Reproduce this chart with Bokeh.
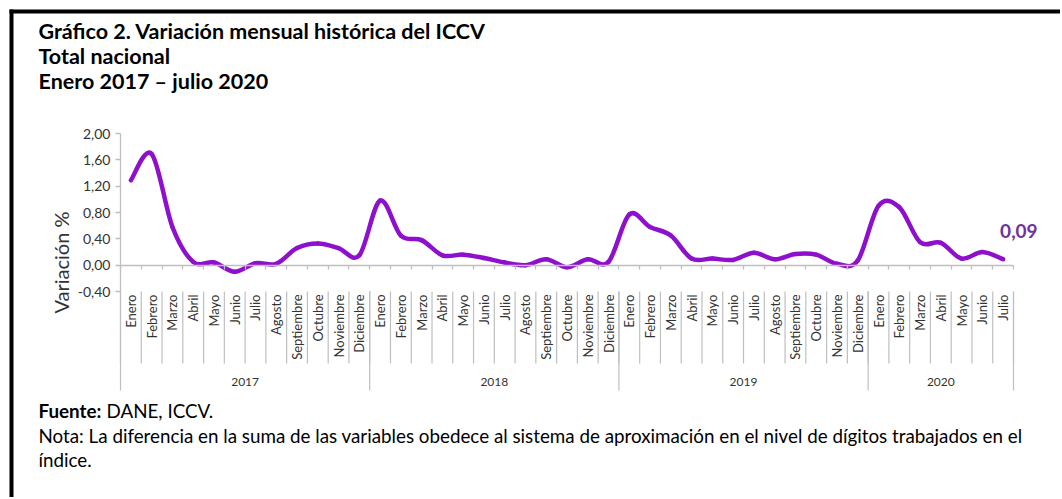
import math
from bokeh.plotting import figure
from bokeh.models import Range1d, FixedTicker, LinearAxis, Label, BoxAnnotation
from bokeh.embed import file_html
from bokeh.resources import INLINE

# ---------------- data ----------------
years = ["2017", "2018", "2019", "2020"]
months = ["Enero", "Febrero", "Marzo", "Abril", "Mayo", "Junio", "Julio",
          "Agosto", "Septiembre", "Octubre", "Noviembre", "Diciembre"]
values_2017 = [1.29, 1.69, 0.58, 0.05, 0.04, -0.10, 0.03, 0.02, 0.26, 0.33, 0.26, 0.15]
values_2018 = [0.98, 0.45, 0.38, 0.15, 0.16, 0.11, 0.04, 0.00, 0.09, -0.03, 0.09, 0.05]
values_2019 = [0.77, 0.58, 0.45, 0.10, 0.10, 0.08, 0.19, 0.09, 0.17, 0.16, 0.02, 0.07]
values_2020 = [0.90, 0.88, 0.35, 0.34, 0.10, 0.20, 0.09]
y_ticks = [-0.4, 0.0, 0.4, 0.8, 1.2, 1.6, 2.0]
y_tick_labels = ["-0,40", "0,00", "0,40", "0,80", "1,20", "1,60", "2,00"]

title_lines = ["Gráfico 2. Variación mensual histórica del ICCV",
               "Total nacional",
               "Enero 2017 \u2013 julio 2020"]
y_label = "Variación %"
source_bold = "Fuente:"
source_text = "DANE, ICCV."
note_lines = ["Nota: La diferencia en la suma de las variables obedece al sistema de aproximación en el nivel de dígitos trabajados en el",
              "índice."]

# ---------------- derived ----------------
series = [values_2017, values_2018, values_2019, values_2020]
values = [v for s in series for v in s]
month_labels = [months[i] for s in series for i in range(len(s))]
n = len(values)
xs = list(range(n))
year_sizes = [len(s) for s in series]
year_starts = [sum(year_sizes[:k]) for k in range(len(year_sizes))]
year_centers = [year_starts[k] + (year_sizes[k] - 1) / 2 for k in range(len(years))]
year_bounds = [s - 0.5 for s in year_starts] + [n - 0.5]
month_bounds = [i - 0.5 for i in range(n + 1)]

LINE = "#8E10CC"
GRAY = "#BFBFBF"
TXT = "#333333"
FONT = "Lato"

W, H = 1060, 497
# plot-area placement on the canvas (pixels)
PL, PR, PT, PB = 120, 1013, 133, 291
x_lo, x_hi = -0.5, n - 0.5
y_lo, y_hi = y_ticks[0], y_ticks[-1]
SX = (PR - PL) / (x_hi - x_lo)
SY = (PB - PT) / (y_hi - y_lo)
BASE_FIX = 7  # rendered baseline sits a few px lower than requested


def xd(px):
    return x_lo + (px - PL) / SX


def yd(py):
    return y_hi - (py - PT) / SY


p = figure(width=W, height=H, output_backend="svg", toolbar_location=None,
           x_range=Range1d(xd(0), xd(W)), y_range=Range1d(yd(H), yd(0)),
           x_axis_location=None, y_axis_location=None,
           min_border=0, min_border_left=0, min_border_right=0,
           min_border_top=0, min_border_bottom=0)
p.outline_line_color = None
p.grid.visible = False
p.background_fill_color = "white"
p.border_fill_color = "white"

# y axis
ay = LinearAxis(fixed_location=x_lo, bounds=(y_lo, y_hi),
                ticker=FixedTicker(ticks=y_ticks, minor_ticks=[]),
                major_label_overrides=dict(zip(y_ticks, y_tick_labels)))
ay.axis_line_color = GRAY
ay.axis_line_width = 1.3
ay.major_tick_line_color = GRAY
ay.major_tick_line_width = 1.3
ay.major_tick_in = 0
ay.major_tick_out = 5
ay.minor_tick_line_color = None
ay.major_label_text_font = FONT
ay.major_label_text_font_size = "14px"
ay.major_label_text_color = TXT
ay.major_label_standoff = 5
p.add_layout(ay, "left")

# zero line with category ticks
az = LinearAxis(fixed_location=0, bounds=(x_lo, x_hi),
                ticker=FixedTicker(ticks=month_bounds, minor_ticks=[]))
az.axis_line_color = GRAY
az.axis_line_width = 1.5
az.major_tick_line_color = GRAY
az.major_tick_line_width = 1.3
az.major_tick_in = 0
az.major_tick_out = 4
az.major_label_text_color = None
az.major_label_text_font_size = "1px"
p.add_layout(az, "below")

# month labels axis
am = LinearAxis(fixed_location=y_lo, ticker=FixedTicker(ticks=xs, minor_ticks=[]),
                major_label_overrides={i: month_labels[i] for i in xs})
am.axis_line_color = None
am.major_tick_line_color = None
am.major_tick_in = 0
am.major_tick_out = 0
am.major_label_orientation = math.pi / 2
am.major_label_standoff = 3
am.major_label_text_font = FONT
am.major_label_text_font_size = "13px"
am.major_label_text_color = TXT
p.add_layout(am, "below")

# year labels axis
ayr = LinearAxis(fixed_location=yd(373), ticker=FixedTicker(ticks=year_centers, minor_ticks=[]),
                 major_label_overrides=dict(zip(year_centers, years)))
ayr.axis_line_color = None
ayr.major_tick_line_color = None
ayr.major_tick_in = 0
ayr.major_tick_out = 0
ayr.major_label_standoff = 4
ayr.major_label_text_font = FONT
ayr.major_label_text_font_size = "12px"
ayr.major_label_text_color = TXT
p.add_layout(ayr, "below")

# separators under the axis
p.segment(x0=month_bounds, y0=[yd(PB)] * len(month_bounds), x1=month_bounds,
          y1=[yd(363)] * len(month_bounds), line_color=GRAY, line_width=1.2)
p.segment(x0=year_bounds, y0=[yd(PB)] * len(year_bounds), x1=year_bounds,
          y1=[yd(390)] * len(year_bounds), line_color=GRAY, line_width=1.2)

# smoothed line (Catmull-Rom as cubic Bezier segments)
bx0, by0, bx1, by1, cx0, cy0, cx1, cy1 = [], [], [], [], [], [], [], []
for i in range(n - 1):
    a = max(i - 1, 0)
    d = min(i + 2, n - 1)
    bx0.append(xs[i]); by0.append(values[i])
    bx1.append(xs[i + 1]); by1.append(values[i + 1])
    cx0.append(xs[i] + (xs[i + 1] - xs[a]) / 6)
    cy0.append(values[i] + (values[i + 1] - values[a]) / 6)
    cx1.append(xs[i + 1] - (xs[d] - xs[i]) / 6)
    cy1.append(values[i + 1] - (values[d] - values[i]) / 6)
p.bezier(x0=bx0, y0=by0, x1=bx1, y1=by1, cx0=cx0, cy0=cy0, cx1=cx1, cy1=cy1,
         line_color=LINE, line_width=4.5, line_cap="round")

# last value label
p.add_layout(Label(x=xs[-1], y=values[-1], text=f"{values[-1]:.2f}".replace(".", ","),
                   x_offset=-3, y_offset=28, text_align="left", text_baseline="middle",
                   text_font=FONT, text_font_style="bold", text_font_size="19px",
                   text_color="#7030A0"))

# y axis title
p.add_layout(Label(x=xd(60), y=yd(262), text=y_label,
                   angle=math.pi / 2, text_align="center", text_baseline="middle",
                   text_font=FONT, text_font_size="20px", text_color=TXT))

# titles
for line, py in zip(title_lines, [37, 62, 87]):
    p.add_layout(Label(x=xd(38), y=yd(py - BASE_FIX), text=line,
                       text_align="left", text_baseline="alphabetic",
                       text_font=FONT, text_font_style="bold", text_font_size="21.5px",
                       text_color="black"))

# footer
p.add_layout(Label(x=xd(38), y=yd(417 - BASE_FIX), text=source_bold,
                   text_align="left", text_baseline="alphabetic", text_font=FONT,
                   text_font_style="bold", text_font_size="18.8px", text_color="black"))
p.add_layout(Label(x=xd(106), y=yd(417 - BASE_FIX), text=source_text,
                   text_align="left", text_baseline="alphabetic", text_font=FONT,
                   text_font_size="18.8px", text_color="black"))
for line, py in zip(note_lines, [442, 466]):
    p.add_layout(Label(x=xd(38), y=yd(py - BASE_FIX), text=line,
                       text_align="left", text_baseline="alphabetic", text_font=FONT,
                       text_font_size="18.8px", text_color="black"))

# page border (top and left)
p.add_layout(BoxAnnotation(left=xd(9), right=xd(W), top=yd(9), bottom=yd(13),
                           fill_color="black", fill_alpha=1, line_color=None))
p.add_layout(BoxAnnotation(left=xd(9), right=xd(13), top=yd(9), bottom=yd(H),
                           fill_color="black", fill_alpha=1, line_color=None))

open("out.html", "w").write(file_html(p, INLINE))
